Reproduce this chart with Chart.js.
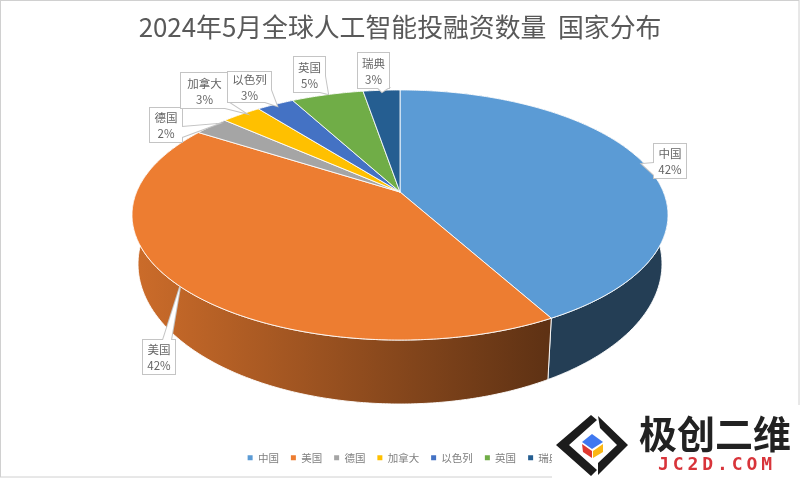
<!DOCTYPE html>
<html>
<head>
<meta charset="utf-8">
<style>
  html, body { margin: 0; padding: 0; background: #fff; }
  canvas { display: block; }
</style>
<script src="https://cdn.jsdelivr.net/npm/chart.js@4"></script>
</head>
<body>
<canvas id="chart" width="800" height="478"></canvas>
<script>
const TITLE = '2024年5月全球人工智能投融资数量  国家分布';
const countries = ['中国', '美国', '德国', '加拿大', '以色列', '英国', '瑞典'];
const shares = [42, 42.1, 2.49, 2.86, 2.7, 5.2, 2.65];
const sliceColors = ['#5b9bd5', '#ed7d31', '#a5a5a5', '#ffc000', '#4472c4', '#70ad47', '#255e91'];

const FONT = '"Noto Sans CJK SC", "Noto Sans", sans-serif';

// callout boxes, same order as countries: box x, y, w, h and the tail triangle
const callouts = [
  { box: [654, 144, 32, 34], tail: [[654, 163], [642, 164], [654, 175]] },
  { box: [143, 340, 32, 34], tail: [[163, 340], [180, 287], [171, 340]] },
  { box: [150, 108, 32, 34], tail: [[182, 127], [217, 124], [182, 137]] },
  { box: [181, 73, 47, 35], tail: [[225, 108], [245, 113], [228, 102]] },
  { box: [228, 72, 43, 30], tail: [[265, 102], [277, 106], [271, 90]] },
  { box: [294, 57, 31, 35], tail: [[320, 92], [328, 94], [325, 76]] },
  { box: [358, 53, 31, 35], tail: [[378, 88], [382, 92], [388, 88]] }
];

// perspective projection of the unit circle, top face and bottom face
const TOP = { cx: 400, cy: 192, a: 263.4, b: 120.8, k: -0.184 };
const BOTTOM = { cx: 400, cy: 238.2, a: 257.5, b: 135.3, k: -0.184 };

function project(face, angle) {
  const w = 1 + face.k * Math.sin(angle);
  return [face.cx + face.a * Math.cos(angle) / w, face.cy + face.b * Math.sin(angle) / w];
}

function rimPoints(face, start, end) {
  const steps = Math.max(2, Math.ceil((end - start) / 0.01));
  const pts = [];
  for (let i = 0; i <= steps; i++) pts.push(project(face, start + (end - start) * i / steps));
  return pts;
}

function shade(hex, f) {
  const n = parseInt(hex.slice(1), 16);
  return `rgb(${(n >> 16) * f},${((n >> 8) & 255) * f},${(n & 255) * f})`;
}

class Arc3D extends Chart.ArcElement {
  static id = 'arc3d';

  drawSide(ctx) {
    const { startAngle, endAngle } = this;
    const color = this.options.backgroundColor;
    const top = rimPoints(TOP, startAngle, endAngle);
    const bottom = rimPoints(BOTTOM, startAngle, endAngle).reverse();
    const grad = ctx.createLinearGradient(134, 0, 546, 0);
    grad.addColorStop(0, shade(color, 0.86));
    grad.addColorStop(1, shade(color, 0.4));
    ctx.beginPath();
    top.concat(bottom).forEach(p => ctx.lineTo(p[0], p[1]));
    ctx.closePath();
    ctx.fillStyle = grad;
    ctx.fill();
    ctx.strokeStyle = 'rgba(255,255,255,0.9)';
    ctx.lineWidth = 1;
    ctx.stroke();
  }

  draw(ctx) {
    const { startAngle, endAngle } = this;
    ctx.beginPath();
    ctx.moveTo(TOP.cx, TOP.cy);
    rimPoints(TOP, startAngle, endAngle).forEach(p => ctx.lineTo(p[0], p[1]));
    ctx.closePath();
    ctx.fillStyle = this.options.backgroundColor;
    ctx.fill();
    ctx.strokeStyle = 'rgba(255,255,255,0.85)';
    ctx.lineWidth = 1;
    ctx.stroke();
  }
}

class Pie3D extends Chart.PieController {
  static id = 'pie3d';
  static defaults = { dataElementType: 'arc3d' };

  draw() {
    this._cachedMeta.data.forEach(arc => arc.drawSide(this.chart.ctx));
    super.draw();
  }
}

Chart.register(Arc3D, Pie3D);

function drawCallouts(ctx) {
  const total = shares.reduce((a, b) => a + b, 0);
  callouts.forEach((c, i) => {
    const [x, y, w, h] = c.box;
    const boxPath = () => { ctx.beginPath(); ctx.rect(x, y, w, h); };
    const tailPath = () => {
      ctx.beginPath();
      c.tail.forEach(p => ctx.lineTo(p[0], p[1]));
      ctx.closePath();
    };
    ctx.strokeStyle = '#c4c4c4';
    ctx.lineWidth = 2;
    ctx.lineJoin = 'miter';
    boxPath(); ctx.stroke();
    tailPath(); ctx.stroke();
    ctx.fillStyle = '#fff';
    boxPath(); ctx.fill();
    tailPath(); ctx.fill();

    ctx.fillStyle = '#666';
    ctx.font = '11.5px ' + FONT;
    ctx.textAlign = 'center';
    ctx.textBaseline = 'middle';
    ctx.fillText(countries[i], x + w / 2, y + h / 2 - 7);
    ctx.fillText(Math.round(shares[i] / total * 100) + '%', x + w / 2, y + h / 2 + 9);
  });
}

function polygon(ctx, pts, color) {
  ctx.beginPath();
  pts.forEach(p => ctx.lineTo(p[0], p[1]));
  ctx.closePath();
  ctx.fillStyle = color;
  ctx.fill();
}

function drawWatermark(ctx) {
  ctx.fillStyle = '#fff';
  ctx.fillRect(552, 405, 248, 73);
  polygon(ctx, [[591, 415], [556, 445], [591, 476], [597, 470], [569, 445], [597, 420]], '#1c1c1c');
  polygon(ctx, [[598, 416], [628, 445], [598, 475], [598, 463], [617, 445], [600, 428]], '#1c1c1c');
  polygon(ctx, [[592, 434], [603, 442], [592, 449], [582, 442]], '#3f78f0');
  polygon(ctx, [[582, 444], [592, 451], [592, 458], [583, 452]], '#e0392f');
  polygon(ctx, [[593, 451], [603, 444], [603, 452], [593, 458]], '#fbb714');

  ctx.textAlign = 'left';
  ctx.textBaseline = 'middle';
  ctx.fillStyle = '#222';
  ctx.font = 'bold 38px ' + FONT;
  ctx.fillText('极创二维', 639, 434);
  ctx.fillStyle = '#d8343a';
  ctx.font = 'bold 18px "DejaVu Sans Mono", monospace';
  ctx.letterSpacing = '3.9px';
  ctx.fillText('JC2D.COM', 658, 465);
  ctx.letterSpacing = '0px';
}

const overlayPlugin = {
  id: 'overlay',
  // the legend sits a little right of centre in the reference, the title does not
  afterLayout(chart) {
    chart.legend.left += 7;
  },
  afterDraw(chart) {
    const ctx = chart.ctx;
    ctx.save();
    drawCallouts(ctx);
    ctx.strokeStyle = '#d0d0d0';
    ctx.lineWidth = 1;
    ctx.strokeRect(0.5, 0.5, 798.5, 476.5);
    drawWatermark(ctx);
    ctx.restore();
  }
};

new Chart(document.getElementById('chart'), {
  type: 'pie3d',
  data: {
    labels: countries,
    datasets: [{ data: shares, backgroundColor: sliceColors, borderWidth: 0, clip: false }]
  },
  options: {
    responsive: false,
    animation: false,
    layout: { padding: { bottom: 5 } },
    plugins: {
      title: {
        display: true,
        text: TITLE,
        color: '#595959',
        font: { family: FONT, size: 25.85, weight: 'normal' },
        padding: { top: 12, bottom: 8 }
      },
      legend: {
        position: 'bottom',
        labels: {
          boxWidth: 5,
          boxHeight: 5,
          padding: 12,
          color: '#7f7f7f',
          font: { family: FONT, size: 10.5 }
        }
      },
      tooltip: { enabled: false }
    }
  },
  plugins: [overlayPlugin]
});
</script>
</body>
</html>
